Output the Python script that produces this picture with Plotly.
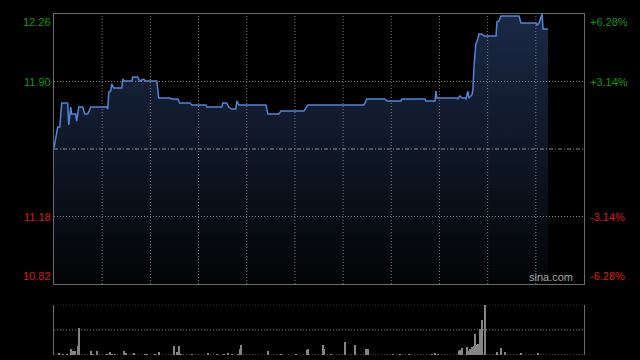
import plotly.graph_objects as go

# ---- data (minutes since open, HK session 330 min) ----
minutes = [0, 1.7, 2.3, 3.6, 4.8, 8.5, 9.2, 10.4, 11.0, 13.5, 14.1, 15.4, 17.9, 19.1, 21.0, 22.9,
           32.8, 33.5, 34.1, 35.3, 35.9, 37.2, 42.2, 42.8, 44.0, 48.4, 49.1, 52.1, 53.4, 55.9, 57.1,
           64.0, 65.2, 72.1, 73.3, 77.1, 78.3, 84.6, 85.8, 94.5, 95.1, 104.5, 105.1, 107.6, 108.8,
           110.7, 113.2, 113.8, 115.1, 131.9, 133.2, 140.0, 141.3, 155.6, 158.1, 193.0, 194.8,
           206.0, 207.3, 216.0, 216.6, 231.0, 231.6, 237.2, 237.8, 238.4, 250.9, 251.5, 252.7,
           254.0, 255.8, 256.5, 257.7, 258.3, 260.2, 260.8, 261.5, 262.7, 263.3, 264.6, 266.4,
           267.7, 275.2, 275.8, 277.0, 278.3, 289.5, 290.8, 300.1, 300.8, 302.0, 303.9, 304.5, 307.6]
prices = [11.545, 11.641, 11.657, 11.657, 11.785, 11.785, 11.668, 11.764, 11.727, 11.727, 11.689,
          11.764, 11.764, 11.727, 11.727, 11.764, 11.764, 11.753, 11.844, 11.849, 11.887, 11.865,
          11.865, 11.913, 11.903, 11.903, 11.924, 11.924, 11.903, 11.913, 11.903, 11.903, 11.812,
          11.812, 11.807, 11.807, 11.785, 11.785, 11.775, 11.775, 11.764, 11.764, 11.785, 11.785,
          11.764, 11.753, 11.753, 11.796, 11.775, 11.775, 11.727, 11.727, 11.743, 11.743, 11.775,
          11.775, 11.807, 11.807, 11.796, 11.796, 11.807, 11.807, 11.796, 11.796, 11.849, 11.812,
          11.812, 11.807, 11.823, 11.812, 11.812, 11.807, 11.849, 11.812, 11.828, 11.855, 11.977,
          12.105, 12.111, 12.153, 12.153, 12.143, 12.143, 12.217, 12.223, 12.249, 12.249, 12.212,
          12.212, 12.201, 12.212, 12.26, 12.180, 12.180]

vol_minutes = [3.1, 5.6, 8.1, 10.6, 11.8, 13.1, 14.8, 15.6, 23.1, 24.3, 26.8, 33.0, 34.7, 36.4, 38.0,
               43.4, 44.7, 49.7, 56.5, 57.9, 62.7, 65.4, 74.8, 76.4, 77.9, 79.1, 86.0, 95.9, 101.5,
               105.9, 108.4, 110.9, 114.6, 115.9, 116.5, 133.3, 141.4, 150.8, 157.6, 158.2, 167.6,
               168.2, 172.6, 181.3, 187.5, 194.4, 195.6, 211.2, 215.6, 221.2, 235.5, 237.4, 239.3,
               252.3, 252.9, 254.2, 257.3, 258.5, 259.4, 260.4, 261.7, 262.5, 263.5, 264.2, 265.4,
               266.3, 268.5, 276.2, 278.6, 280.8, 290.8, 301.4]
vol_values = [5, 3, 3, 13, 8, 9, 19, 55, 9, 3, 9, 3, 7, 3, 3,
              9, 5, 5, 3, 3, 3, 7, 19, 7, 19, 3, 3, 5, 3,
              3, 5, 3, 3, 13, 21, 8, 3, 3, 10, 13, 21,
              13, 3, 27, 21, 13, 13, 3, 3, 3, 3, 5, 3,
              9, 10, 15, 17, 9, 13, 17, 19, 43, 21, 23, 52,
              71, 100, 7, 15, 7, 5, 5]

prev_close = 11.54
price_ticks = [12.26, 11.90, 11.18, 10.82]
left_labels = ["12.26", "11.90", "11.18", "10.82"]
pct_labels = ["+6.28%", "+3.14%", "-3.14%", "-6.28%"]
label_colors = ["#109a10", "#109a10", "#dd1a1a", "#dd1a1a"]
grid_minutes = [30, 60, 90, 120, 150, 180, 210, 240, 270, 300]

P_MIN, P_MAX = 10.82, 12.26
GRID = "#7c7c7c"
BORDER = "#6a6a6a"
DOT = "1px,2px"

fig = go.Figure()
fig.add_trace(go.Scatter(
    x=minutes, y=prices, mode="lines",
    line=dict(color="#4f86d8", width=1.5),
    fill="tozeroy",
    fillgradient=dict(type="vertical", colorscale=[[0, "#030406"], [1, "#1b2946"]],
                      start=P_MIN, stop=P_MAX),
    xaxis="x", yaxis="y", showlegend=False, hoverinfo="skip"))
fig.add_trace(go.Bar(
    x=vol_minutes, y=vol_values, width=0.8,
    marker=dict(color="#858585", line=dict(width=0)),
    xaxis="x2", yaxis="y2", showlegend=False, hoverinfo="skip"))

shapes = []
for m in grid_minutes:
    shapes.append(dict(type="line", xref="x", yref="y domain", x0=m, x1=m, y0=0, y1=1,
                       line=dict(color=GRID, width=1, dash=DOT), layer="above"))
for p in [11.90, 11.18]:
    shapes.append(dict(type="line", xref="x domain", yref="y", x0=0, x1=1, y0=p, y1=p,
                       line=dict(color=GRID, width=1, dash=DOT), layer="above"))
shapes.append(dict(type="line", xref="x domain", yref="y", x0=0, x1=1, y0=prev_close, y1=prev_close,
                   line=dict(color="#8e8e8e", width=1, dash="4px,2px,1px,2px"), layer="above"))
for v in [0, 50, 100]:
    shapes.append(dict(type="line", xref="x2 domain", yref="y2", x0=0, x1=1, y0=v, y1=v,
                       line=dict(color=GRID, width=1, dash=DOT), layer="above"))

annotations = []
for p, lab, pct, col in zip(price_ticks, left_labels, pct_labels, label_colors):
    if p == P_MAX:
        ya, ys = "top", 0
    elif p == P_MIN:
        ya, ys = "bottom", 0
    else:
        ya, ys = "middle", 0
    annotations.append(dict(xref="paper", yref="y", x=0, y=p, text=lab, showarrow=False,
                            xanchor="right", yanchor=ya, xshift=-1, yshift=ys,
                            font=dict(family="Liberation Sans, Arial", size=11, color=col)))
    annotations.append(dict(xref="paper", yref="y", x=1, y=p, text=pct, showarrow=False,
                            xanchor="left", yanchor=ya, xshift=4, yshift=ys,
                            font=dict(family="Liberation Sans, Arial", size=11, color=col)))
annotations.append(dict(xref="paper", yref="y", x=1, y=P_MIN, text="sina.com", showarrow=False,
                        xanchor="right", yanchor="bottom", xshift=-9, yshift=-1,
                        font=dict(family="Liberation Sans, Arial", size=11, color="#a6a6a6")))

axis_common = dict(showgrid=False, zeroline=False, showticklabels=False, ticks="")
fig.update_layout(
    width=640, height=360,
    paper_bgcolor="#000000", plot_bgcolor="#000000",
    margin=dict(l=54, r=56, t=14, b=5),
    bargap=0,
    xaxis=dict(domain=[0, 1], range=[0, 330], anchor="y", showline=True, mirror=True,
               linecolor=BORDER, linewidth=1, **axis_common),
    yaxis=dict(domain=[0.2082, 1], range=[P_MIN, P_MAX], anchor="x", showline=True, mirror=True,
               linecolor=BORDER, linewidth=1, **axis_common),
    xaxis2=dict(domain=[0, 1], range=[0, 330], anchor="y2", showline=False, **axis_common),
    yaxis2=dict(domain=[0, 0.1475], range=[0, 100], anchor="x2", showline=True, mirror=True,
                linecolor=BORDER, linewidth=1, **axis_common),
    shapes=shapes,
    annotations=annotations,
)

fig.write_html("out.html")
